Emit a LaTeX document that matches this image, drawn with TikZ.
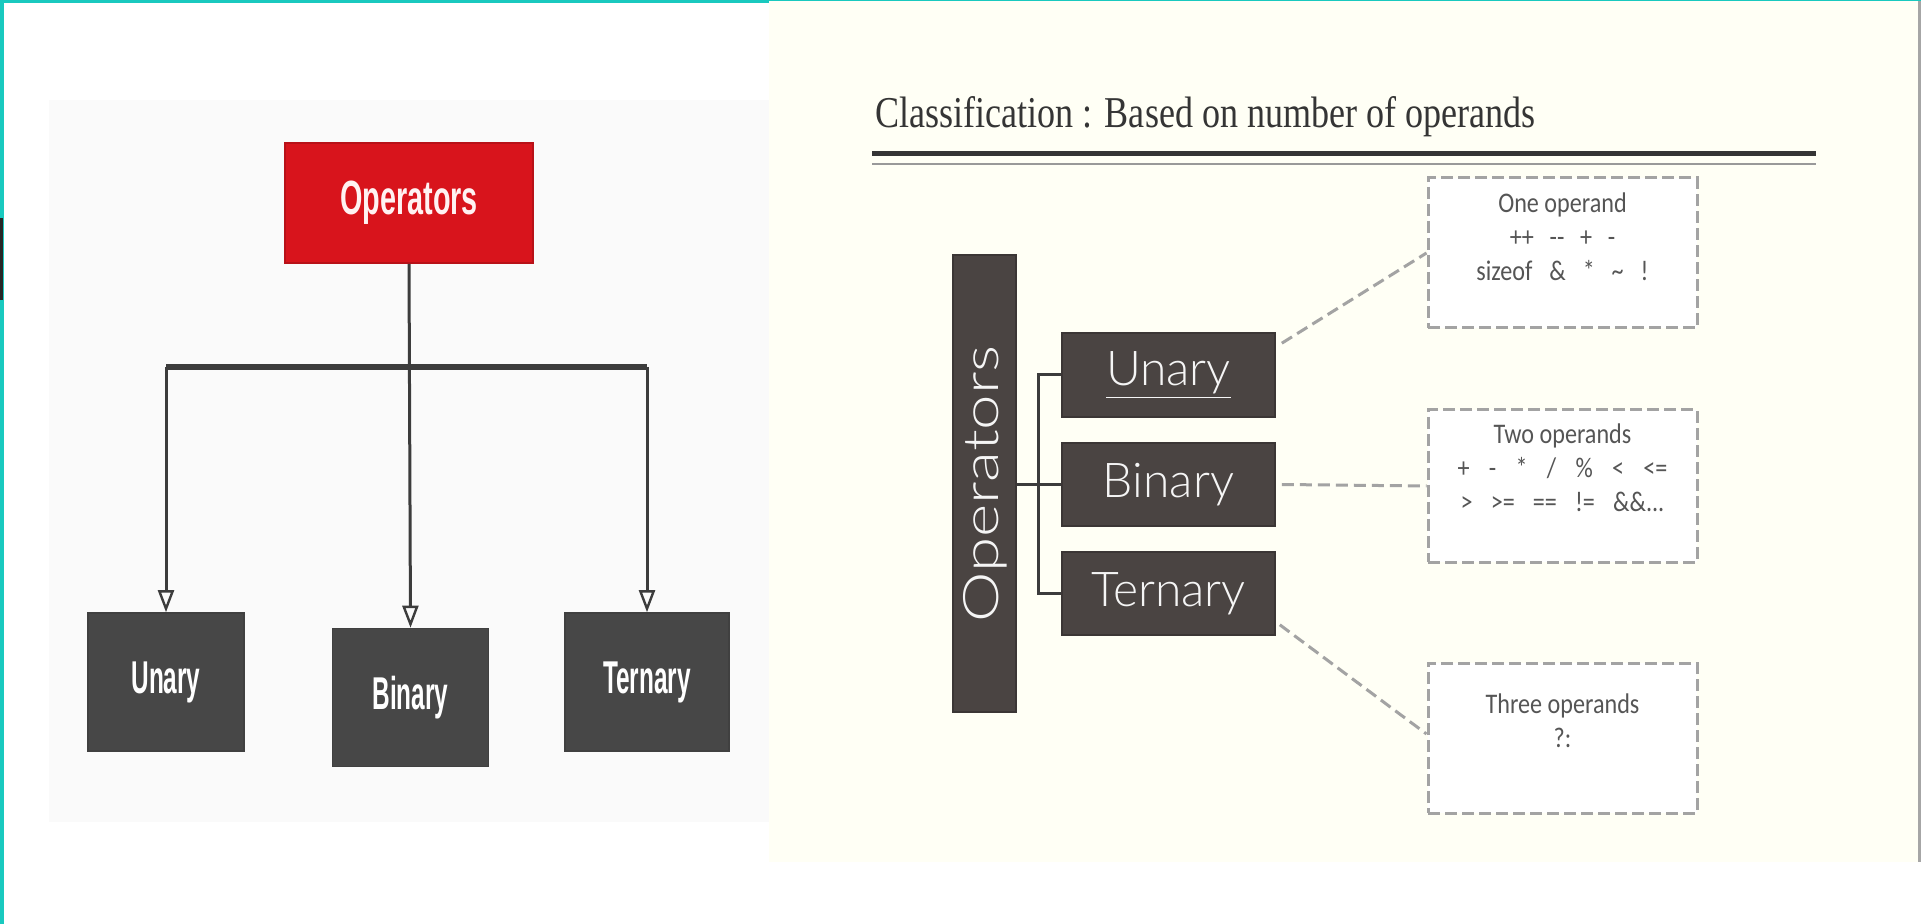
\documentclass[tikz,border=0pt]{standalone}
\usepackage{fontspec}
\usepackage{graphicx}
\usetikzlibrary{arrows.meta}

\newfontfamily\chartsans{Liberation Sans}
\newfontfamily\titleserif{Liberation Serif}
\newfontfamily\boxsans{Lato Light}
\newfontfamily\notesans{Carlito}

\definecolor{tealedge}{HTML}{19C9BF}
\definecolor{redbox}{HTML}{D8141C}
\definecolor{darkbox}{HTML}{474747}
\definecolor{brownbox}{HTML}{4A4442}
\definecolor{cream}{HTML}{FFFFF5}
\definecolor{panelgray}{HTML}{FAFAFA}
\definecolor{dashgray}{HTML}{A3A3A3}
\definecolor{notegray}{HTML}{555555}
\definecolor{linkdark}{HTML}{3C3C3C}
\definecolor{titleink}{HTML}{353535}

% condensed labels
\newcommand\narrowlabel[2]{\scalebox{#1}[1]{#2}}
\newcommand\notelines[1]{\scalebox{0.85}[1]{\begin{tabular}{@{}c@{}}#1\end{tabular}}}

\tikzset{
  treebox/.style={draw=black!75, line width=0.8pt, fill=darkbox, text=white,
    inner sep=0pt, font=\chartsans\bfseries\fontsize{23}{27}\selectfont},
  rootbox/.style={draw=redbox!85!black, line width=0.8pt, fill=redbox, text=white!95!red,
    inner sep=0pt, font=\chartsans\bfseries\fontsize{24}{28}\selectfont},
  treelink/.style={draw=linkdark, line width=1.5pt,
    -{Triangle[open, length=11pt, width=8pt, line width=1.2pt]}},
  kindbox/.style={draw=brownbox!80!black, line width=0.8pt, fill=brownbox, text=white!96!black,
    inner sep=0pt, minimum width=106.5pt, font=\boxsans\fontsize{24}{28}\selectfont},
  bracketline/.style={draw=linkdark, line width=1.5pt},
  notebox/.style={draw=dashgray, line width=1.5pt, dash pattern=on 6pt off 2.5pt,
    fill=white, inner sep=0pt, minimum width=134.5pt},
  notetext/.style={inner sep=0pt, text=notegray, font=\notesans\fontsize{14.2}{17}\selectfont},
  dashlink/.style={draw=dashgray, line width=1.5pt, dash pattern=on 6pt off 3pt}
}

\begin{document}
\begin{tikzpicture}[x=0.5pt, y=-0.5pt]
  \useasboundingbox (0,0) rectangle (1921,924);

  % backgrounds of the two panels
  \fill[white] (0,0) rectangle (1921,924);
  \fill[panelgray] (49,100) rectangle (769,822);
  \fill[cream] (769,0) rectangle (1918,862);
  \fill[black!35] (1918,0) rectangle (1920.5,862);

  % frame edges
  \fill[tealedge] (0,0) rectangle (769,3);
  \fill[tealedge] (769,0) rectangle (1921,1.5);
  \fill[tealedge] (0,0) rectangle (3.5,924);
  \fill[black!85] (0,218) rectangle (2.5,300);

  % ---------- tree chart ----------
  \node[rootbox, minimum width=124pt, minimum height=60pt] (rootop) at (409,203)
    {\narrowlabel{0.6}{Operators}};
  \node[treebox, minimum width=78pt, minimum height=69pt] (unL) at (166,682)
    {\narrowlabel{0.53}{Unary}};
  \node[treebox, minimum width=78pt, minimum height=69pt] (binL) at (410.5,697.5)
    {\narrowlabel{0.53}{Binary}};
  \node[treebox, minimum width=82pt, minimum height=69pt] (terL) at (647,682)
    {\narrowlabel{0.53}{Ternary}};

  \coordinate (busL) at (166,367);
  \coordinate (busR) at (647,367);
  \draw[draw=linkdark, line width=3pt] (busL) -- (busR);
  \draw[treelink] (rootop.south) -- (binL.north);
  \draw[treelink] (busL) -- (unL.north);
  \draw[treelink] (busR) -- (terL.north);

  % ---------- classification panel ----------
  \node[anchor=base west, inner sep=0pt, text=titleink,
        font=\titleserif\fontsize{22}{26}\selectfont] (title) at (875,128)
    {\scalebox{0.82}[1]{Classification : Based on number of operands}};
  \draw[titleink, line width=2.5pt] (872,154) -- (1816,154);
  \draw[black!40, line width=1pt] (872,164) -- (1816,164);

  \node[kindbox, minimum width=31.5pt, minimum height=228.5pt] (opV) at (984.5,483.5) {};
  \node[rotate=90, text=white!96!black, inner sep=0pt,
        font=\boxsans\fontsize{24.5}{28}\selectfont] (opVtext) at (985,484)
    {\scalebox{1.3}[1]{Operators}};

  \node[kindbox, minimum height=42pt] (unR) at (1168.5,375) {\underline{Unary}};
  \node[kindbox, minimum height=41.5pt] (binR) at (1168.5,484.5) {Binary};
  \node[kindbox, minimum height=41.5pt] (terR) at (1168.5,593.5) {Ternary};

  \coordinate (brk) at (1038,484.5);
  \draw[bracketline] (opV.east |- binR.west) -- (binR.west);
  \draw[bracketline] (unR.west) -| (brk) |- (terR.west);

  \node[notebox, minimum height=75pt] (note1) at (1562.5,253) {};
  \node[notebox, minimum height=76pt] (note2) at (1562.5,486) {};
  \node[notebox, minimum height=75pt] (note3) at (1562.5,738) {};

  \node[notetext] (note1text) at (1562.5,240)
    {\notelines{One operand\\
      ++\hspace{0.65em}{-}{-}\hspace{0.65em}+\hspace{0.65em}{-}\\
      sizeof\hspace{0.7em}\&\hspace{0.7em}*\hspace{0.7em}\textasciitilde\hspace{0.7em}!}};
  \node[notetext] (note2text) at (1562.5,471)
    {\notelines{Two operands\\
      +\hspace{0.8em}{-}\hspace{0.8em}*\hspace{0.8em}/\hspace{0.8em}\%\hspace{0.8em}<\hspace{0.8em}<=\\
      >\hspace{0.75em}>=\hspace{0.75em}==\hspace{0.75em}!=\hspace{0.75em}\&\&...}};
  \node[notetext] (note3text) at (1562.5,724)
    {\notelines{Three operands\\ ?:}};

  \draw[dashlink] ([xshift=3pt, yshift=-5.5pt]unR.north east) -- (note1.west);
  \draw[dashlink] ([xshift=3pt]binR.east) -- (note2.west);
  \draw[dashlink] ([xshift=2pt, yshift=5.5pt]terR.south east) -- ([yshift=2pt]note3.west);
\end{tikzpicture}
\end{document}
